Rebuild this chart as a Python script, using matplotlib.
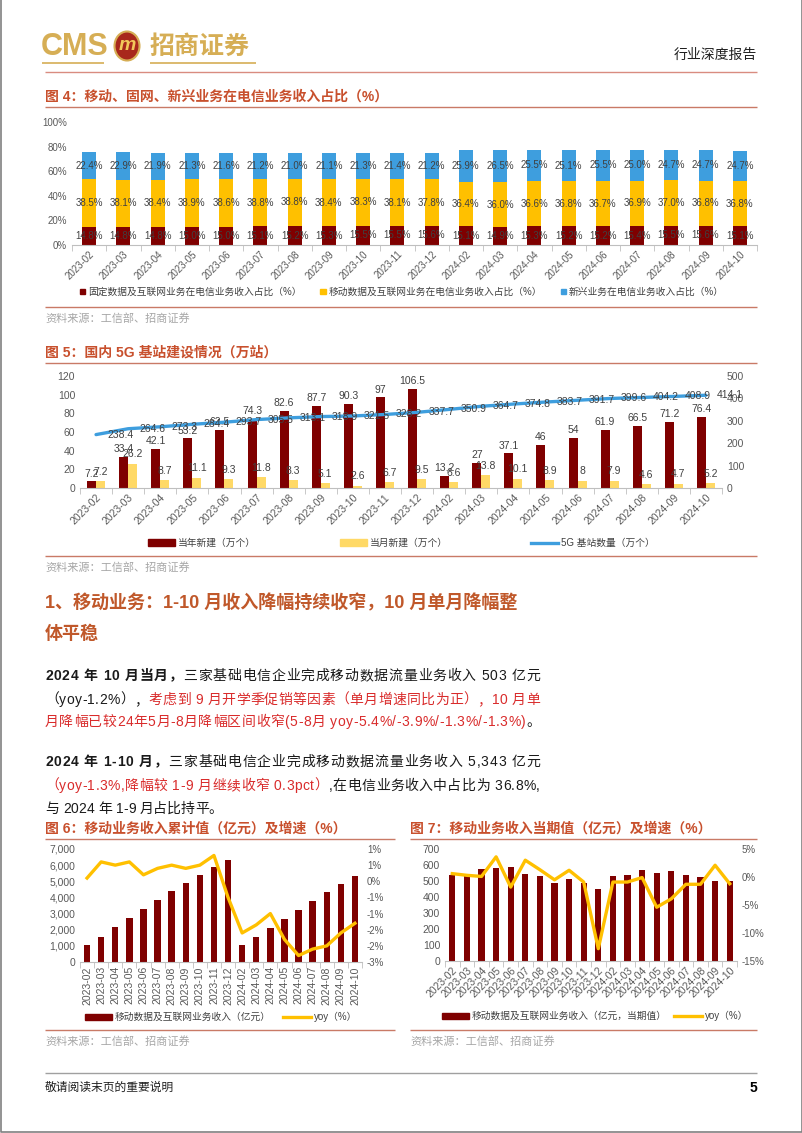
import matplotlib
matplotlib.use("Agg")
import matplotlib.pyplot as plt
import numpy as np
from matplotlib.patches import Patch, Ellipse
from matplotlib.lines import Line2D

FONT = ['Liberation Sans', 'Noto Sans CJK SC', 'DejaVu Sans']
plt.rcParams['font.family'] = FONT
plt.rcParams['axes.unicode_minus'] = False

W, H = 802, 1133

months = ['2023-02', '2023-03', '2023-04', '2023-05', '2023-06', '2023-07', '2023-08',
          '2023-09', '2023-10', '2023-11', '2023-12', '2024-02', '2024-03', '2024-04',
          '2024-05', '2024-06', '2024-07', '2024-08', '2024-09', '2024-10']

# fig 4: revenue share (%)
fixed_pct = [14.8, 14.8, 14.8, 15.0, 15.0, 15.1, 15.2, 15.3, 15.5, 15.5,
             15.6, 15.1, 14.9, 15.3, 15.2, 15.2, 15.4, 15.5, 15.6, 15.1]
mobile_pct = [38.5, 38.1, 38.4, 38.9, 38.6, 38.8, 38.8, 38.4, 38.3, 38.1,
              37.8, 36.4, 36.0, 36.6, 36.8, 36.7, 36.9, 37.0, 36.8, 36.8]
emerging_pct = [22.4, 22.9, 21.9, 21.3, 21.6, 21.2, 21.0, 21.1, 21.3, 21.4,
                21.2, 25.9, 26.5, 25.5, 25.1, 25.5, 25.0, 24.7, 24.7, 24.7]

# fig 5: 5G base stations (10k)
annual_new = [7.2, 33.4, 42.1, 53.2, 62.5, 74.3, 82.6, 87.7, 90.3, 97,
              106.5, 13.2, 27, 37.1, 46, 54, 61.9, 66.5, 71.2, 76.4]
monthly_new = [7.2, 26.2, 8.7, 11.1, 9.3, 11.8, 8.3, 5.1, 2.6, 6.7,
               9.5, 6.6, 13.8, 10.1, 8.9, 8, 7.9, 4.6, 4.7, 5.2]
bs_total = [238.4, 264.6, 273.3, 284.4, 293.7, 305.5, 313.1, 318.9, 321.5, 328.2,
            337.7, 350.9, 364.7, 374.8, 383.7, 391.7, 399.6, 404.2, 408.9, 414.1]

# fig 6: cumulative mobile revenue (100m yuan) and yoy (%)
cum_rev = [1056, 1573, 2153, 2753, 3313, 3851, 4389, 4886, 5383, 5880,
           6335, 1035, 1553, 2132, 2671, 3230, 3768, 4306, 4803, 5343]
cum_yoy = [0.1, 0.6, 0.5, 0.6, 0.2, 0.4, 0.5, 0.4, 0.5, 0.8,
           -0.5, -1.6, -1.35, -1.0, -1.8, -2.3, -2.1, -2.0, -1.6, -1.3]
cum_yoy_ticks = [-2.5, -2.0, -1.5, -1.0, -0.5, 0.0, 0.5, 1.0]
cum_yoy_labels = ['-3%', '-2%', '-2%', '-1%', '-1%', '0%', '1%', '1%']

# fig 7: monthly mobile revenue and yoy (%)
mon_rev = [539, 532, 574, 581, 587, 543, 532, 488, 511, 488,
           451, 532, 537, 570, 549, 564, 537, 526, 501, 503]
mon_yoy = [0.6, 0.3, 0.1, 3.6, -1.8, 3.0, 1.3, -0.5, 1.2, -0.9,
           -12.8, -0.9, -0.9, -0.1, -5.4, -3.9, -1.3, -1.3, 2.1, -1.2]

MAROON = '#7F0000'
YELLOW = '#FFC000'
BLUE = '#3E9EDE'
TITLE_C = '#C8502D'
LINE_C = '#C97A66'
GRAY_T = '#595959'
LABEL_C = '#404040'

fig = plt.figure(figsize=(W / 100, H / 100), dpi=100)
ov = fig.add_axes([0, 0, 1, 1], zorder=0)
ov.set_xlim(0, W)
ov.set_ylim(H, 0)
ov.axis('off')


def rect(x0, y0, x1, y1):
    return [x0 / W, 1 - y1 / H, (x1 - x0) / W, (y1 - y0) / H]


def hline(y, x0, x1, c=LINE_C, lw=1.0):
    ov.plot([x0, x1], [y, y], color=c, lw=lw, solid_capstyle='butt')


def section(x0, x1, ytitle, title, ybottom):
    ov.text(x0, ytitle, title, color=TITLE_C, fontsize=10, fontweight='bold', va='center')
    hline(ytitle + 10, x0, x1)
    hline(ybottom, x0, x1)
    ov.text(x0, ybottom + 11, '资料来源：工信部、招商证券', color='#A6A6A6', fontsize=8, va='center')


def style_cat_axis(ax, n, rot, size=6.5):
    x = np.arange(n)
    ax.set_xlim(-0.5, n - 0.5)
    ax.set_xticks(x)
    ax.set_xticks(np.arange(n + 1) - 0.5, minor=True)
    ax.tick_params(axis='x', which='major', length=0, labelsize=size, colors=GRAY_T, pad=3)
    ax.tick_params(axis='x', which='minor', length=4, color='#BFBFBF')
    if rot == 90:
        ax.set_xticklabels(months, rotation=90, ha='center', va='top')
    else:
        ax.set_xticklabels(months, rotation=rot, ha='right', va='top', rotation_mode='anchor')
    for s in ['top', 'left', 'right']:
        ax.spines[s].set_visible(False)
    ax.spines['bottom'].set_color('#BFBFBF')
    ax.tick_params(axis='y', length=0, labelsize=size, colors=GRAY_T)
    ax.patch.set_alpha(0)


def legend_row(handles, labels, x0, x1, y, size=6.5, **kw):
    fig.legend(handles, labels, loc='center', ncol=len(handles), mode='expand',
               bbox_to_anchor=(x0 / W, 1 - (y + 6) / H, (x1 - x0) / W, 12 / H),
               frameon=False, fontsize=size, borderaxespad=0, borderpad=0,
               handletextpad=0.3, labelcolor='#404040', **kw)


# ---------------- header ----------------
ov.text(41, 47, 'CMS', color='#D6AE55', fontsize=22, va='center', ha='left', fontweight='bold')
ov.add_patch(Ellipse((127, 46), 25, 29, facecolor='#A8281C', edgecolor='#D6AE55', lw=1.5))
ov.text(127, 46, 'm', color='#F2C85A', fontsize=14, fontweight='bold', style='italic',
        ha='center', va='center')
ov.text(150, 47, '招商证券', color='#D6AE55', fontsize=18, fontweight='bold', va='center')
hline(63, 42, 104, c='#D6AE55', lw=1.2)
hline(63, 150, 256, c='#D6AE55', lw=1.2)
ov.text(757, 55, '行业深度报告', fontsize=10, ha='right', va='center', color='#202020')
hline(72, 45, 757, c='#D98C80', lw=1.0)

# ---------------- fig 4 ----------------
section(45, 757, 97, '图 4：移动、固网、新兴业务在电信业务收入占比（%）', 307)
ax4 = fig.add_axes(rect(72, 122, 757, 245), zorder=1)
x = np.arange(len(months))
fixed = np.array(fixed_pct) / 100
mob = np.array(mobile_pct) / 100
emg = np.array(emerging_pct) / 100
bw = 0.41
ax4.bar(x, fixed, bw, color=MAROON)
ax4.bar(x, mob, bw, bottom=fixed, color=YELLOW)
ax4.bar(x, emg, bw, bottom=fixed + mob, color=BLUE)
for i in range(len(months)):
    ax4.text(i, fixed[i] / 2, f'{fixed_pct[i]:.1f}%', ha='center', va='center', fontsize=7, color=LABEL_C)
    ax4.text(i, fixed[i] + mob[i] / 2, f'{mobile_pct[i]:.1f}%', ha='center', va='center', fontsize=7, color=LABEL_C)
    ax4.text(i, fixed[i] + mob[i] + emg[i] / 2, f'{emerging_pct[i]:.1f}%', ha='center', va='center', fontsize=7, color=LABEL_C)
ax4.set_ylim(0, 1)
ax4.set_yticks(np.arange(0, 1.01, 0.2))
ax4.set_yticklabels([f'{int(round(v * 100))}%' for v in np.arange(0, 1.01, 0.2)])
style_cat_axis(ax4, len(months), 45, 7)
legend_row([Patch(color=MAROON), Patch(color=YELLOW), Patch(color=BLUE)],
           ['固定数据及互联网业务在电信业务收入占比（%）', '移动数据及互联网业务在电信业务收入占比（%）',
            '新兴业务在电信业务收入占比（%）'],
           80, 724, 292, size=7, handlelength=0.55, handleheight=0.55)

# ---------------- fig 5 ----------------
section(45, 757, 353, '图 5：国内 5G 基站建设情况（万站）', 556)
ax5 = fig.add_axes(rect(80, 376, 722, 488), zorder=1)
bw5 = 0.28
ax5.bar(x - bw5 / 2, annual_new, bw5, color=MAROON)
ax5.bar(x + bw5 / 2, monthly_new, bw5, color='#FFD966')
for i in range(len(months)):
    ax5.annotate(f'{annual_new[i]:g}', (i - bw5 / 2, annual_new[i]), xytext=(0, 2),
                 textcoords='offset points', ha='center', va='bottom', fontsize=7.5, color=LABEL_C)
    ax5.annotate(f'{monthly_new[i]:g}', (i + bw5 / 2, monthly_new[i]), xytext=(0, 3),
                 textcoords='offset points', ha='center', va='bottom', fontsize=7.5, color=LABEL_C)
ax5.set_ylim(0, 120)
ax5.set_yticks(range(0, 121, 20))
style_cat_axis(ax5, len(months), 45, 7.5)
ax5b = ax5.twinx()
ax5b.plot(x, bs_total, color=BLUE, lw=2.4, solid_capstyle='round')
for i in range(len(months)):
    ax5b.annotate(f'{bs_total[i]:.1f}', (i, bs_total[i]), xytext=(8, 0),
                  textcoords='offset points', ha='left', va='center', fontsize=7.5, color=LABEL_C)
ax5b.set_ylim(0, 500)
ax5b.set_yticks(range(0, 501, 100))
ax5b.tick_params(axis='y', length=0, labelsize=7.5, colors=GRAY_T)
for s in ax5b.spines.values():
    s.set_visible(False)
legend_row([Patch(color=MAROON), Patch(color='#FFD966'), Line2D([], [], color=BLUE, lw=2.4)],
           ['当年新建（万个）', '当月新建（万个）', '5G 基站数量（万个）'],
           148, 655, 543, size=7, handlelength=2.8, handleheight=0.6)

# ---------------- section text ----------------
HEAD_C = '#C0582A'
RED = '#D92B2B'
ov.text(45, 603, '1、移动业务：1-10 月收入降幅持续收窄，10 月单月降幅整', color=HEAD_C,
        fontsize=13, fontweight='bold', va='center')
ov.text(45, 634, '体平稳', color=HEAD_C, fontsize=13, fontweight='bold', va='center')

renderer = fig.canvas.get_renderer()


def char_width(ch, w, size):
    t = ov.text(0, 0, ch, fontweight=w, fontsize=size)
    wd = t.get_window_extent(renderer).width if ch != ' ' else size * 0.28 * 100 / 72
    t.remove()
    return wd


def rich(xs, y, parts, size=10, right=None):
    # lay out characters one by one; spread them to the right edge when asked
    chars = [(ch, c, w, char_width(ch, w, size)) for s, c, w in parts for ch in s]
    extra = 0
    if right is not None and len(chars) > 1:
        extra = (right - xs - sum(c[3] for c in chars)) / (len(chars) - 1)
    for ch, c, w, wd in chars:
        if ch != ' ':
            ov.text(xs, y, ch, color=c, fontweight=w, fontsize=size, va='center', ha='left')
        xs += wd + extra


K = '#1A1A1A'
RIGHT = 540
rich(45, 676, [('2024 年 10 月当月，', K, 'bold'),
               ('三家基础电信企业完成移动数据流量业务收入 503 亿元', K, 'normal')], right=RIGHT)
rich(45, 700, [('（yoy-1.2%），', K, 'normal'),
               ('考虑到 9 月开学季促销等因素（单月增速同比为正），10 月单', RED, 'normal')], right=RIGHT)
rich(45, 722, [('月降幅已较24年5月-8月降幅区间收窄(5-8月 yoy-5.4%/-3.9%/-1.3%/-1.3%)', RED, 'normal'),
               ('。', K, 'normal')], right=RIGHT)
rich(45, 762, [('2024 年 1-10 月，', K, 'bold'),
               ('三家基础电信企业完成移动数据流量业务收入 5,343 亿元', K, 'normal')], right=RIGHT)
rich(45, 786, [('（yoy-1.3%,降幅较 1-9 月继续收窄 0.3pct）', RED, 'normal'),
               (',在电信业务收入中占比为 36.8%,', K, 'normal')], right=RIGHT)
rich(45, 809, [('与 2024 年 1-9 月占比持平。', K, 'normal')])

# ---------------- fig 6 ----------------
section(45, 395, 829, '图 6：移动业务收入累计值（亿元）及增速（%）', 1030)
ax6 = fig.add_axes(rect(80, 849, 362, 962), zorder=1)
ax6.bar(x, cum_rev, 0.45, color=MAROON)
ax6.set_ylim(0, 7000)
ax6.set_yticks(range(0, 7001, 1000))
ax6.set_yticklabels([f'{v:,}' for v in range(0, 7001, 1000)])
style_cat_axis(ax6, len(months), 90, 7.5)
ax6.tick_params(axis='y', labelsize=7.5)
ax6b = ax6.twinx()
ax6b.plot(x, cum_yoy, color=YELLOW, lw=2.4, solid_joinstyle='round')
ax6b.set_ylim(-2.5, 1.0)
ax6b.set_yticks(cum_yoy_ticks)
ax6b.set_yticklabels(cum_yoy_labels)
ax6b.tick_params(axis='y', length=0, labelsize=7, colors=GRAY_T)
for s in ax6b.spines.values():
    s.set_visible(False)
legend_row([Patch(color=MAROON), Line2D([], [], color=YELLOW, lw=2.4)],
           ['移动数据及互联网业务收入（亿元）', 'yoy（%）'],
           85, 357, 1017, size=7, handlelength=2.8, handleheight=0.6)

# ---------------- fig 7 ----------------
section(410, 757, 829, '图 7：移动业务收入当期值（亿元）及增速（%）', 1030)
ax7 = fig.add_axes(rect(445, 849, 737, 961), zorder=1)
ax7.bar(x, mon_rev, 0.42, color=MAROON)
ax7.set_ylim(0, 700)
ax7.set_yticks(range(0, 701, 100))
style_cat_axis(ax7, len(months), 45, 7.5)
ax7.tick_params(axis='y', labelsize=7.5)
ax7b = ax7.twinx()
ax7b.plot(x, mon_yoy, color=YELLOW, lw=2.4, solid_joinstyle='round')
ax7b.set_ylim(-15, 5)
ax7b.set_yticks(range(-15, 6, 5))
ax7b.set_yticklabels([f'{v}%' for v in range(-15, 6, 5)])
ax7b.tick_params(axis='y', length=0, labelsize=7, colors=GRAY_T)
for s in ax7b.spines.values():
    s.set_visible(False)
legend_row([Patch(color=MAROON), Line2D([], [], color=YELLOW, lw=2.4)],
           ['移动数据及互联网业务收入（亿元，当期值）', 'yoy（%）'],
           442, 748, 1016, size=7, handlelength=2.8, handleheight=0.6)

# ---------------- footer ----------------
hline(1073, 45, 757, c='#A0A0A0', lw=1.0)
ov.text(45, 1088, '敬请阅读末页的重要说明', fontsize=8.5, va='center', color='#202020')
ov.text(757, 1088, '5', fontsize=10, fontweight='bold', ha='right', va='center')
ov.plot([0.5, 0.5, W - 0.5, W - 0.5], [0, H - 1.5, H - 1.5, 0], color='#808080', lw=1.2)

fig.savefig('out.png', dpi=100)
